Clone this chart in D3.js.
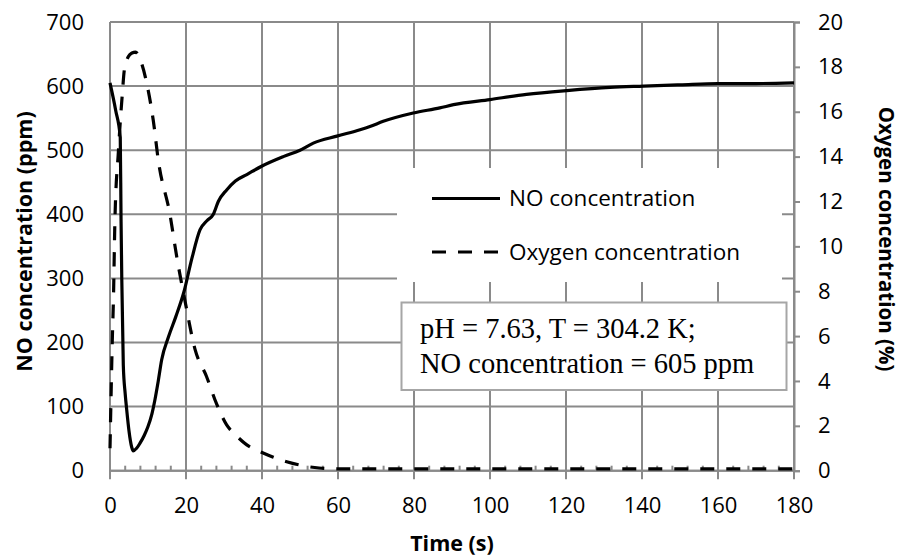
<!DOCTYPE html>
<html>
<head>
<meta charset="utf-8">
<script src="https://cdn.jsdelivr.net/npm/d3@7"></script>
<style>
  body { margin: 0; background: #fff; }
  svg { display: block; }
</style>
</head>
<body>
<svg width="900" height="558"></svg>
<script>
// NO concentration (ppm) vs time (s)
const noTime   = [0, 1.5, 2.7, 2.9, 3.1, 3.5, 4.0, 4.4, 5.0, 5.7, 6.1, 7.0, 7.9, 9.0, 10, 11, 11.8, 12.7, 13.6, 15.4, 17.3, 19.5, 21.5, 23.7, 25.5, 27.2, 28.5, 30.7, 33, 36, 39.9, 45.6, 50, 53.5, 59.7, 65.8, 68.4, 71.9, 79.8, 86.8, 90.4, 100, 109.6, 120.2, 131.6, 140.4, 150, 160, 170, 180];
const noValues = [605, 562, 520, 395, 300, 165, 120, 95, 62, 37, 31, 35, 43, 55, 69, 88, 110, 140, 173, 209, 240, 280, 330, 376, 390, 400, 420, 438, 452, 462, 475, 490, 500, 511, 522, 532, 537, 545, 558, 566, 571, 579, 587, 593, 598, 600, 602, 604, 604, 605];

// Oxygen concentration (%) vs time (s)
const o2Time   = [0, 0.3, 0.6, 0.9, 1.3, 2.2, 3.2, 3.8, 4.8, 5.8, 6.7, 8, 10, 11.4, 12.7, 15.8, 17.5, 19.7, 22.4, 25.4, 28, 30.7, 33, 36, 40.3, 43, 46.5, 50, 55, 60, 80, 100, 120, 140, 160, 180];
const o2Values = [1.0, 3.5, 5.8, 7.6, 11.2, 14.2, 16.7, 17.9, 18.45, 18.62, 18.66, 18.3, 17.0, 15.6, 13.85, 11.4, 9.6, 7.6, 5.4, 4.2, 3.0, 2.04, 1.6, 1.15, 0.79, 0.6, 0.4, 0.25, 0.12, 0.08, 0.08, 0.08, 0.08, 0.08, 0.08, 0.08];

const xTicks  = d3.range(0, 181, 20);
const yLTicks = d3.range(0, 701, 100);
const yRTicks = d3.range(0, 21, 2);

const legendLabels = ["NO concentration", "Oxygen concentration"];
const noteLines = ["pH = 7.63, T = 304.2 K;", "NO concentration = 605 ppm"];

const svg = d3.select("svg");
const pLeft = 110, pRight = 794, pTop = 22, pBottom = 470.7;
const grid = "#8a8a8a";
const sans = "'Open Sans', sans-serif";

const x  = d3.scaleLinear().domain([0, 180]).range([pLeft, pRight]);
const yL = d3.scaleLinear().domain([0, 700]).range([pBottom, pTop]);
const yR = d3.scaleLinear().domain([0, 20]).range([pBottom, pTop]);

// grid
svg.append("g").selectAll("line").data(yLTicks).join("line")
  .attr("x1", pLeft).attr("x2", pRight)
  .attr("y1", d => yL(d)).attr("y2", d => yL(d))
  .attr("stroke", grid).attr("stroke-width", 2);
svg.append("g").selectAll("line").data(xTicks).join("line")
  .attr("x1", d => x(d)).attr("x2", d => x(d))
  .attr("y1", pTop).attr("y2", pBottom + 8.5)
  .attr("stroke", grid).attr("stroke-width", 2);
// minor ticks on time axis
svg.append("g").selectAll("line").data(d3.range(0, 181, 4).filter(d => d % 20 !== 0)).join("line")
  .attr("x1", d => x(d)).attr("x2", d => x(d))
  .attr("y1", pBottom - 5).attr("y2", pBottom)
  .attr("stroke", grid).attr("stroke-width", 2);

// axes (labels only, lines are drawn as grid)
const axL = svg.append("g").attr("transform", `translate(${pLeft},0)`)
  .call(d3.axisLeft(yL).tickValues(yLTicks).tickSize(0).tickPadding(26));
const axB = svg.append("g").attr("transform", `translate(0,${pBottom})`)
  .call(d3.axisBottom(x).tickValues(xTicks).tickSize(0).tickPadding(27));
const axR = svg.append("g").attr("transform", `translate(${pRight},0)`)
  .call(d3.axisRight(yR).tickValues(yRTicks).tickSize(6).tickPadding(18));
[axL, axB, axR].forEach(a => {
  a.select(".domain").attr("stroke", grid).attr("stroke-width", 2);
  a.selectAll(".tick line").attr("stroke", grid).attr("stroke-width", 2);
  a.selectAll("text").attr("font-family", sans).attr("font-size", 22).attr("fill", "#000");
});
axL.select(".domain").remove();
axB.select(".domain").attr("d", `M${pLeft},0H${pRight}`);

// legend background
svg.append("rect").attr("x", 397).attr("y", 168).attr("width", 385).attr("height", 114).attr("fill", "#fff");

// note box
const note = svg.append("g");
note.append("rect").attr("x", 401.5).attr("y", 302.5).attr("width", 385).attr("height", 87.5)
  .attr("fill", "#fff").attr("stroke", "#a6a6a6").attr("stroke-width", 2);
note.selectAll("text").data(noteLines).join("text")
  .attr("x", 420).attr("y", (d, i) => 338 + i * 35)
  .attr("font-family", "'Liberation Serif', 'Times New Roman', serif")
  .attr("font-size", 28.5).text(d => d);

// series
const lineNO = d3.line().x((d, i) => x(noTime[i])).y(d => yL(d)).curve(d3.curveMonotoneX);
const lineO2 = d3.line().x((d, i) => x(o2Time[i])).y(d => yR(d)).curve(d3.curveMonotoneX);
svg.append("path").attr("d", lineO2(o2Values))
  .attr("fill", "none").attr("stroke", "#000").attr("stroke-width", 3.2)
  .attr("stroke-dasharray", "14,12");
svg.append("path").attr("d", lineNO(noValues))
  .attr("fill", "none").attr("stroke", "#000").attr("stroke-width", 3.2)
  .attr("stroke-linejoin", "round");

// legend
const leg = svg.append("g");
legendLabels.forEach((lab, i) => {
  const ly = 198.5 + i * 53.5;
  leg.append("line").attr("x1", 432).attr("x2", 500).attr("y1", ly).attr("y2", ly)
    .attr("stroke", "#000").attr("stroke-width", 3.2)
    .attr("stroke-dasharray", i === 1 ? "14,12" : null);
  leg.append("text").attr("x", 509).attr("y", ly).attr("dy", "0.35em")
    .attr("font-family", sans).attr("font-size", 22.5).text(lab);
});

// axis titles
svg.append("text").attr("transform", "translate(32,241.5) rotate(-90)")
  .attr("text-anchor", "middle").attr("font-family", sans).attr("font-weight", "bold")
  .attr("font-size", 21.5).text("NO concentration (ppm)");
svg.append("text").attr("transform", "translate(879,239) rotate(90)")
  .attr("text-anchor", "middle").attr("font-family", sans).attr("font-weight", "bold")
  .attr("font-size", 20.5).text("Oxygen concentration (%)");
svg.append("text").attr("x", (pLeft + pRight) / 2).attr("y", 551)
  .attr("text-anchor", "middle").attr("font-family", sans).attr("font-weight", "bold")
  .attr("font-size", 21.5).text("Time (s)");
</script>
</body>
</html>
